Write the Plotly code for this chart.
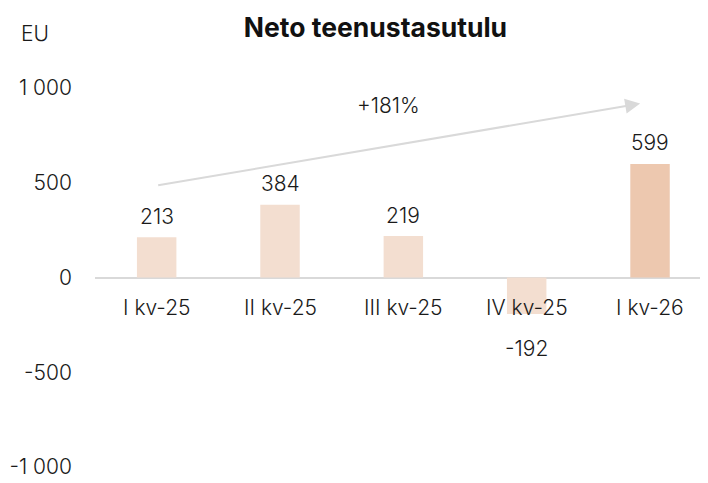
import plotly.graph_objects as go

categories = ["I kv-25", "II kv-25", "III kv-25", "IV kv-25", "I kv-26"]
values = [213, 384, 219, -192, 599]
value_labels = ["213", "384", "219", "-192", "599"]
tick_vals = [1000, 500, 0, -500, -1000]
tick_text = ["1 000", "500", "0", "-500", "-1 000"]
growth_text = "+181%"
arrow_start = (0, 485)
arrow_end = (3.92, 918)
growth_pos = (1.876, 908)

colors = ["#F3DED0"] * 4 + ["#EDC8AF"]
xs = list(range(len(categories)))

W, H = 700, 475
L, R, T, B = 87, 0, 80, 16
PW, PH = W - L - R, H - T - B

fam = "Inter, Liberation Sans, Arial, sans-serif"
font = dict(family=fam, size=21, color="#1a1a1a", weight=300)

fig = go.Figure()
fig.add_trace(go.Bar(x=xs, y=values, marker_color=colors, width=0.32,
                     marker_line_width=0, hoverinfo="skip"))

ann = []
for x, v, t in zip(xs, values, value_labels):
    if v >= 0:
        ann.append(dict(x=x, y=v, text=t, showarrow=False, yanchor="middle", yshift=21, font=font))
    else:
        ann.append(dict(x=x, y=v, text=t, showarrow=False, yanchor="middle", yshift=-35, font=font))
for x, c in zip(xs, categories):
    ann.append(dict(x=x, y=0, text=c, showarrow=False, yanchor="middle", yshift=-30, font=font))
ann.append(dict(x=arrow_end[0], y=arrow_end[1], ax=arrow_start[0], ay=arrow_start[1],
                xref="x", yref="y", axref="x", ayref="y", showarrow=True,
                arrowhead=2, arrowsize=1.5, arrowwidth=2, arrowcolor="#D9D9D9", text=""))
ann.append(dict(x=growth_pos[0], y=growth_pos[1], text=growth_text, showarrow=False, font=font))
ann.append(dict(x=(27 - L) / PW, y=1 + (T - 25) / PH, xref="paper", yref="paper",
                xanchor="center", yanchor="middle",
                text="EU", showarrow=False, font=font))

fig.update_layout(
    width=W, height=H,
    margin=dict(l=L, r=R, t=T, b=B, autoexpand=False),
    plot_bgcolor="white", paper_bgcolor="white",
    showlegend=False,
    title=dict(text="<b>Neto teenustasutulu</b>", x=367.5 / W, xanchor="center",
               y=1 - 20 / H, yanchor="middle",
               font=dict(family=fam, size=26.5, color="#111111")),
    xaxis=dict(range=[-0.5, 4.47], showticklabels=False, showgrid=False, zeroline=False,
               showline=False, fixedrange=True),
    yaxis=dict(range=[-1000, 1000], tickvals=tick_vals, ticktext=tick_text, showgrid=False,
               zeroline=True, zerolinecolor="#D9D9D9", zerolinewidth=2, showline=False,
               tickfont=font, ticklabelstandoff=22),
    annotations=ann,
)
fig.write_html("out.html")
